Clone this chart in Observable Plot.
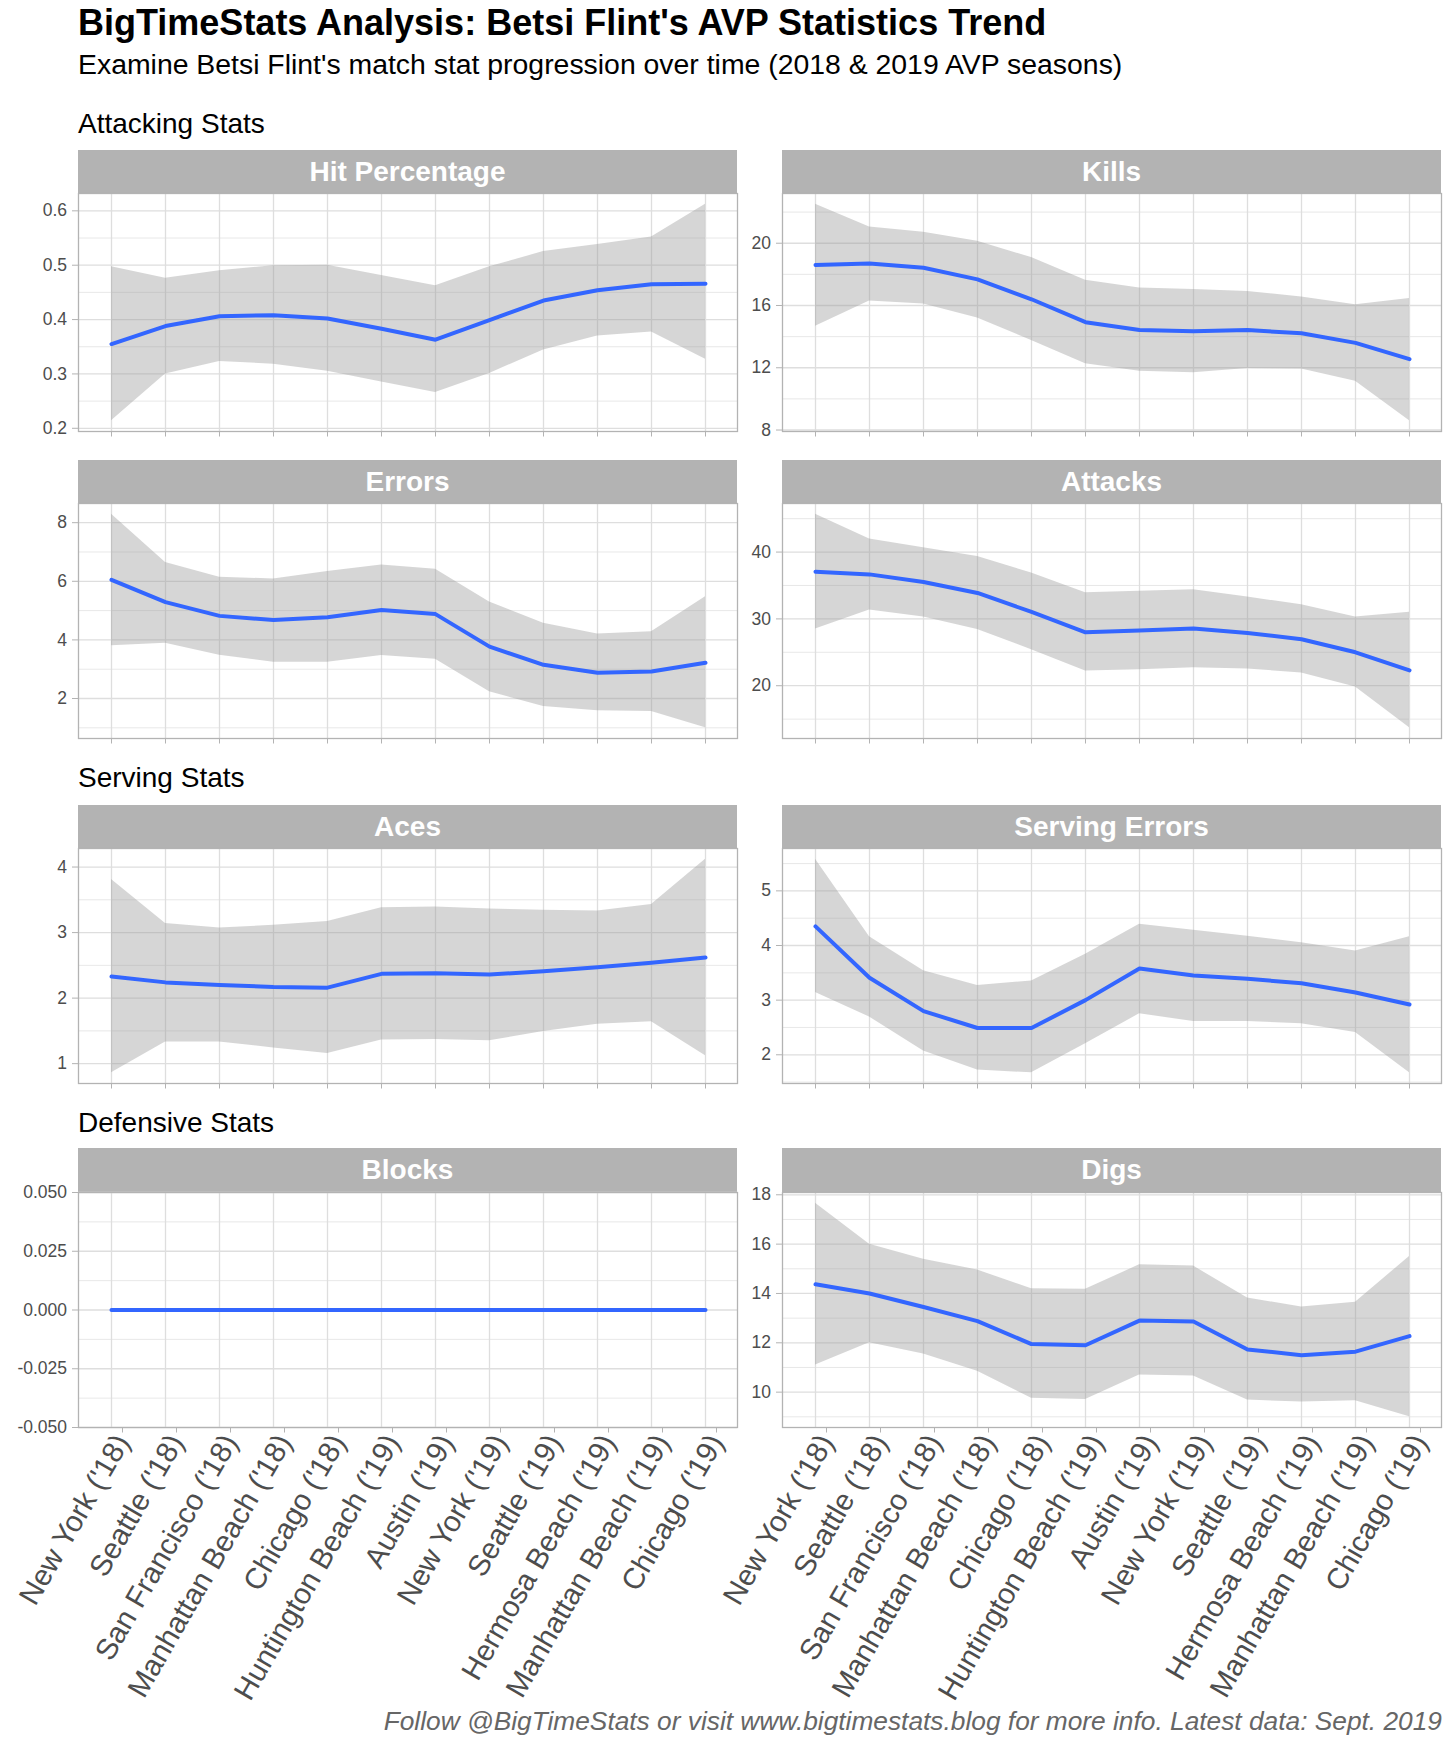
<!DOCTYPE html>
<html>
<head>
<meta charset="utf-8">
<script src="https://cdn.jsdelivr.net/npm/d3@7"></script>
<script src="https://cdn.jsdelivr.net/npm/@observablehq/plot@0.6"></script>
<style>
  html, body { margin: 0; padding: 0; background: #fff; }
  #wrap { position: relative; width: 1456px; height: 1747px; font-family: "Liberation Sans", Arial, Helvetica, sans-serif; overflow: hidden; }
  .txt { position: absolute; white-space: nowrap; line-height: 1; }
  .strip { position: absolute; background: #b3b3b3; color: #fff; font-weight: bold; font-size: 28px; display: flex; align-items: center; justify-content: center; line-height: 1; }
  .panel { position: absolute; }
  .panel svg { overflow: visible; }
</style>
</head>
<body>
<div id="wrap"></div>
<script>
// ---------- data ----------
const venues = ["New York ('18)", "Seattle ('18)", "San Francisco ('18)", "Manhattan Beach ('18)", "Chicago ('18)", "Huntington Beach ('19)", "Austin ('19)", "New York ('19)", "Seattle ('19)", "Hermosa Beach ('19)", "Manhattan Beach ('19)", "Chicago ('19)"];

const hitMean = [0.355, 0.388, 0.406, 0.408, 0.402, 0.383, 0.363, 0.399, 0.435, 0.454, 0.465, 0.466];
const hitLow  = [0.214, 0.300, 0.323, 0.318, 0.305, 0.285, 0.266, 0.301, 0.344, 0.370, 0.377, 0.327];
const hitHigh = [0.497, 0.476, 0.490, 0.499, 0.500, 0.481, 0.462, 0.497, 0.525, 0.538, 0.552, 0.612];

const killsMean = [18.6, 18.7, 18.43, 17.68, 16.4, 14.93, 14.42, 14.34, 14.42, 14.22, 13.6, 12.55];
const killsLow  = [14.66, 16.29, 16.1, 15.2, 13.75, 12.25, 11.78, 11.68, 11.96, 11.92, 11.14, 8.6];
const killsHigh = [22.5, 21.05, 20.7, 20.12, 19.08, 17.62, 17.12, 17.03, 16.9, 16.55, 16.05, 16.45];

const errMean = [6.05, 5.29, 4.82, 4.68, 4.77, 5.02, 4.88, 3.77, 3.15, 2.88, 2.92, 3.22];
const errLow  = [3.8, 3.89, 3.48, 3.24, 3.24, 3.47, 3.34, 2.23, 1.73, 1.58, 1.56, 1.0];
const errHigh = [8.29, 6.64, 6.14, 6.08, 6.33, 6.56, 6.41, 5.29, 4.57, 4.2, 4.28, 5.47];

const attMean = [37.06, 36.66, 35.52, 33.88, 31.04, 28.0, 28.25, 28.55, 27.9, 26.95, 25.0, 22.3];
const attLow  = [28.5, 31.34, 30.3, 28.4, 25.4, 22.2, 22.4, 22.7, 22.5, 21.9, 19.8, 13.7];
const attHigh = [45.67, 41.94, 40.64, 39.34, 36.87, 33.93, 34.12, 34.37, 33.28, 32.1, 30.3, 31.0];

const acesMean = [2.33, 2.24, 2.20, 2.17, 2.16, 2.37, 2.38, 2.36, 2.41, 2.47, 2.54, 2.62];
const acesLow  = [0.86, 1.33, 1.33, 1.24, 1.155, 1.36, 1.37, 1.35, 1.49, 1.6, 1.64, 1.12];
const acesHigh = [3.81, 3.14, 3.07, 3.11, 3.17, 3.38, 3.39, 3.36, 3.34, 3.33, 3.43, 4.12];

const srvErrMean = [4.35, 3.41, 2.80, 2.49, 2.49, 3.0, 3.58, 3.45, 3.39, 3.31, 3.14, 2.92];
const srvErrLow  = [3.14, 2.69, 2.07, 1.72, 1.67, 2.2, 2.75, 2.61, 2.61, 2.57, 2.41, 1.67];
const srvErrHigh = [5.58, 4.16, 3.54, 3.27, 3.35, 3.84, 4.39, 4.28, 4.17, 4.05, 3.9, 4.16];

const blocksMean = [0, 0, 0, 0, 0, 0, 0, 0, 0, 0, 0, 0];
const blocksLow  = [0, 0, 0, 0, 0, 0, 0, 0, 0, 0, 0, 0];
const blocksHigh = [0, 0, 0, 0, 0, 0, 0, 0, 0, 0, 0, 0];

const digsMean = [14.37, 14.0, 13.45, 12.88, 11.95, 11.9, 12.9, 12.86, 11.73, 11.5, 11.64, 12.27];
const digsLow  = [11.1, 12.0, 11.55, 10.85, 9.75, 9.7, 10.7, 10.65, 9.68, 9.6, 9.65, 9.0];
const digsHigh = [17.66, 16.0, 15.39, 14.95, 14.19, 14.17, 15.16, 15.11, 13.82, 13.45, 13.64, 15.5];

// tick values and labels
const hitTicks = [0.2, 0.3, 0.4, 0.5, 0.6];
const hitLabels = ["0.2", "0.3", "0.4", "0.5", "0.6"];
const killsTicks = [8, 12, 16, 20];
const killsLabels = ["8", "12", "16", "20"];
const errTicks = [2, 4, 6, 8];
const errLabels = ["2", "4", "6", "8"];
const attTicks = [20, 30, 40];
const attLabels = ["20", "30", "40"];
const acesTicks = [1, 2, 3, 4];
const acesLabels = ["1", "2", "3", "4"];
const srvErrTicks = [2, 3, 4, 5];
const srvErrLabels = ["2", "3", "4", "5"];
const blocksTicks = [-0.05, -0.025, 0, 0.025, 0.05];
const blocksLabels = ["-0.050", "-0.025", "0.000", "0.025", "0.050"];
const digsTicks = [10, 12, 14, 16, 18];
const digsLabels = ["10", "12", "14", "16", "18"];

const titleText = "BigTimeStats Analysis: Betsi Flint's AVP Statistics Trend";
const subtitleText = "Examine Betsi Flint's match stat progression over time (2018 & 2019 AVP seasons)";
const captionText = "Follow @BigTimeStats or visit www.bigtimestats.blog for more info. Latest data: Sept. 2019";

// ---------- layout ----------
const wrap = document.getElementById("wrap");
const FONT = '"Liberation Sans", Arial, Helvetica, sans-serif';

function addText(str, {x, baseline, size, weight = "normal", style = "normal", color = "#000", right = null}) {
  const d = document.createElement("div");
  d.className = "txt";
  d.textContent = str;
  d.style.fontSize = size + "px";
  d.style.fontWeight = weight;
  d.style.fontStyle = style;
  d.style.color = color;
  d.style.top = (baseline - 0.8465 * size) + "px";
  if (right !== null) d.style.right = right + "px"; else d.style.left = x + "px";
  wrap.appendChild(d);
}

addText(titleText, {x: 78, baseline: 35, size: 36, weight: "bold"});
addText(subtitleText, {x: 78, baseline: 74, size: 28.4});
addText("Attacking Stats", {x: 78, baseline: 134, size: 28});
addText("Serving Stats", {x: 78, baseline: 788, size: 28});
addText("Defensive Stats", {x: 78, baseline: 1133, size: 28});
addText(captionText, {right: 14, baseline: 1730, size: 26.3, style: "italic", color: "#666666"});

const cols = [
  {x0: 78, x1: 737, svgLeft: 0, marginLeft: 78},
  {x0: 782, x1: 1441, svgLeft: 737, marginLeft: 45}
];
const rows = [
  {stripTop: 150, top: 193, bottom: 431},
  {stripTop: 460, top: 503, bottom: 738},
  {stripTop: 805, top: 848, bottom: 1083},
  {stripTop: 1148, top: 1192, bottom: 1427}
];

function expandDomain(low, high) {
  const lo = d3.min(low), hi = d3.max(high);
  if (hi - lo === 0) return [lo - 0.05, hi + 0.05];
  const pad = (hi - lo) * 0.05;
  return [lo - pad, hi + pad];
}

function minorsFor(ticks, domain) {
  const step = ticks[1] - ticks[0];
  const out = [];
  for (let i = -1; i < ticks.length; i++) {
    const v = ticks[0] + step * (i + 0.5);
    if (v >= domain[0] && v <= domain[1]) out.push(v);
  }
  return out;
}

function panel(title, mean, low, high, ticks, labels, row, col, bottomRow) {
  const c = cols[col], r = rows[row];
  // strip
  const s = document.createElement("div");
  s.className = "strip";
  s.textContent = title;
  s.style.left = c.x0 + "px";
  s.style.width = (c.x1 - c.x0) + "px";
  s.style.top = r.stripTop + "px";
  s.style.height = (r.top - r.stripTop) + "px";
  wrap.appendChild(s);

  const data = venues.map((v, i) => ({venue: v, mean: mean[i], low: low[i], high: high[i]}));
  const domain = expandDomain(low, high);
  const minors = minorsFor(ticks, domain);
  const labelMap = new Map(ticks.map((t, i) => [t, labels[i]]));
  const mt = 10, mb = bottomRow ? 320 : 14;
  const plot = Plot.plot({
    width: c.x1 - c.svgLeft,
    height: (r.bottom - r.top) + mt + mb,
    marginLeft: c.marginLeft,
    marginRight: 0,
    marginTop: mt,
    marginBottom: mb,
    style: {fontFamily: FONT, background: "transparent", overflow: "visible"},
    x: {type: "point", domain: venues, padding: 0.6, label: null},
    y: {domain, label: null},
    marks: [
      Plot.gridY(minors, {stroke: "#dedede", strokeOpacity: 1, strokeWidth: 0.7}),
      Plot.gridY(ticks, {stroke: "#dedede", strokeOpacity: 1, strokeWidth: 1.3}),
      Plot.gridX(venues, {stroke: "#dedede", strokeOpacity: 1, strokeWidth: 1.3}),
      Plot.areaY(data, {x: "venue", y1: "low", y2: "high", fill: "#999999", fillOpacity: 0.4}),
      Plot.lineY(data, {x: "venue", y: "mean", stroke: "#3366FF", strokeWidth: 4}),
      Plot.frame({stroke: "#b3b3b3", strokeWidth: 1.3}),
      Plot.axisY(ticks, {tickFormat: d => labelMap.get(d), tickSize: 6, tickPadding: 5.5, stroke: "#b3b3b3", fill: "#4d4d4d", fontSize: 17.5, label: null}),
      Plot.axisX({tickSize: 5.5, stroke: "#b3b3b3", fill: "#4d4d4d", tickFormat: bottomRow ? (d => d) : (() => ""), tickRotate: bottomRow ? -60 : 0, tickPadding: 4, fontSize: 29.5, dx: bottomRow ? 11 : 0, label: null})
    ]
  });
  const holder = document.createElement("div");
  holder.className = "panel";
  holder.style.left = c.svgLeft + "px";
  holder.style.top = (r.top - mt) + "px";
  holder.appendChild(plot);
  wrap.appendChild(holder);
}

panel("Hit Percentage", hitMean, hitLow, hitHigh, hitTicks, hitLabels, 0, 0, false);
panel("Kills", killsMean, killsLow, killsHigh, killsTicks, killsLabels, 0, 1, false);
panel("Errors", errMean, errLow, errHigh, errTicks, errLabels, 1, 0, false);
panel("Attacks", attMean, attLow, attHigh, attTicks, attLabels, 1, 1, false);
panel("Aces", acesMean, acesLow, acesHigh, acesTicks, acesLabels, 2, 0, false);
panel("Serving Errors", srvErrMean, srvErrLow, srvErrHigh, srvErrTicks, srvErrLabels, 2, 1, false);
panel("Blocks", blocksMean, blocksLow, blocksHigh, blocksTicks, blocksLabels, 3, 0, true);
panel("Digs", digsMean, digsLow, digsHigh, digsTicks, digsLabels, 3, 1, true);
</script>
</body>
</html>
